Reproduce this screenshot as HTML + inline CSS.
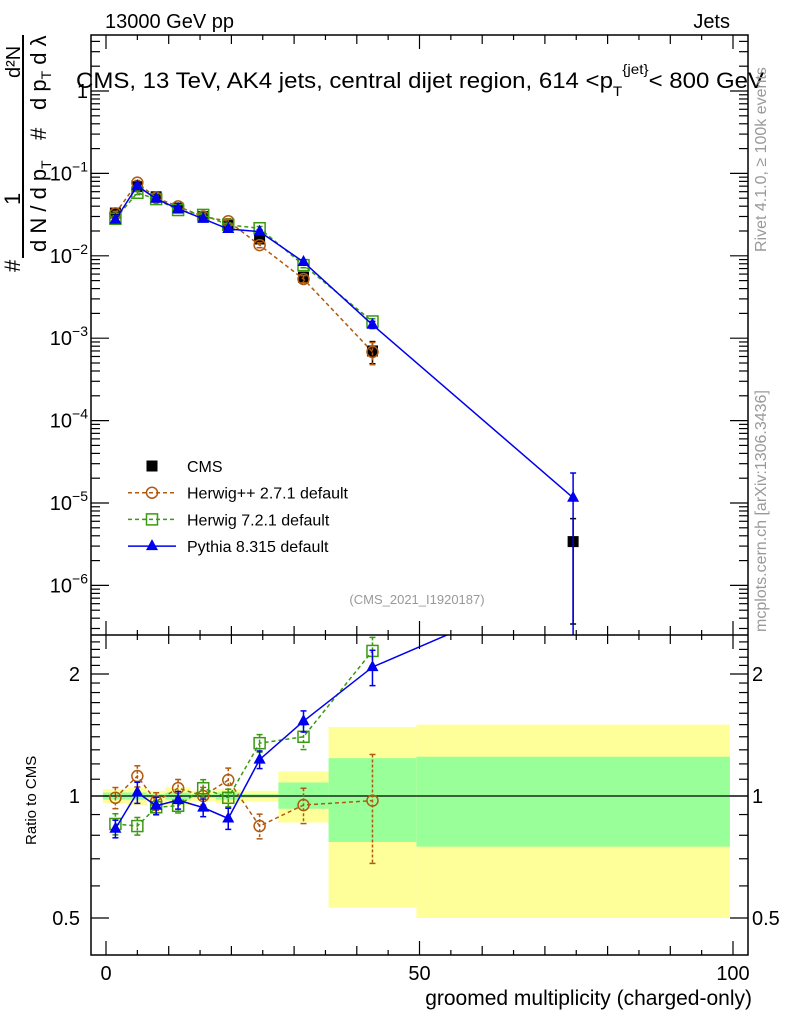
<!DOCTYPE html>
<html><head><meta charset="utf-8"><style>
body{margin:0;background:#fff;}
svg{display:block;font-family:"Liberation Sans",sans-serif;}
</style></head><body>
<svg id="c" width="786" height="1024" viewBox="0 0 786 1024">
<text x="105" y="28" font-size="20">13000 GeV pp</text>
<text x="730" y="28" font-size="20" text-anchor="end">Jets</text>
<text x="420" y="88" font-size="22" text-anchor="middle" textLength="688" lengthAdjust="spacingAndGlyphs">CMS, 13 TeV, AK4 jets, central dijet region, 614 &lt;p<tspan font-size="14" dy="8">T</tspan><tspan font-size="14" dy="-22">{jet}</tspan><tspan dy="14">&lt; 800 GeV</tspan></text>
<text x="417" y="604" font-size="13" fill="#999" text-anchor="middle">(CMS_2021_I1920187)</text>
<text transform="translate(766,252) rotate(-90)" font-size="16" fill="#999">Rivet 4.1.0, ≥ 100k events</text>
<text transform="translate(766,632) rotate(-90)" font-size="16" fill="#999">mcplots.cern.ch [arXiv:1306.3436]</text>
<g font-size="22">
<line x1="23" y1="35" x2="23" y2="258" stroke="#000" stroke-width="2"/>
<text transform="translate(20,272) rotate(-90)">#</text>
<text transform="translate(20,205) rotate(-90)">1</text>
<text transform="translate(20,78) rotate(-90)" font-size="20">d²N</text>
<text transform="translate(46,252) rotate(-90)">d N / d p<tspan font-size="14" dy="5">T</tspan></text>
<text transform="translate(46,140) rotate(-90)">#</text>
<text transform="translate(46,110) rotate(-90)">d p<tspan font-size="14" dy="5">T</tspan><tspan dy="-5"> d λ</tspan></text>
</g>
<text transform="translate(36,845) rotate(-90)" font-size="15">Ratio to CMS</text>
<text x="752" y="1005" font-size="21" text-anchor="end">groomed multiplicity (charged-only)</text>
<g id="g"></g>
</svg>
<script>
const centers=[1.5,5,8,11.5,15.5,19.5,24.5,31.5,42.5,74.5];
const edges=[-0.5,3.5,6.5,9.5,13.5,17.5,21.5,27.5,35.5,49.5,99.5];
const cms=[0.033,0.069,0.052,0.038,0.030,0.024,0.016,0.0055,0.0007,3.4e-6];
const cmsErr=[0.04,0.03,0.03,0.03,0.03,0.03,0.06,0.1,0.3,0.9];
const rHpp=[0.99,1.12,0.97,1.046,1.0,1.095,0.843,0.95,0.974];
const rH7=[0.853,0.843,0.938,0.946,1.045,0.99,1.35,1.40,2.28];
const rPy=[0.83,1.02,0.946,0.977,0.936,0.88,1.23,1.53,2.08,3.4];
const rErrHpp=[0.06,0.06,0.05,0.05,0.05,0.07,0.07,0.1,0.3];
const rErrH7=[0.06,0.05,0.04,0.04,0.05,0.05,0.05,0.07,0.08];
const rErrPy=[0.05,0.06,0.05,0.05,0.05,0.06,0.05,0.06,0.1,1.0];
const yelLo=[0.96,0.95,0.97,0.95,0.97,0.96,0.97,0.86,0.53,0.5];
const yelHi=[1.04,1.05,1.03,1.05,1.03,1.04,1.03,1.15,1.48,1.5];
const grnLo=[0.98,0.98,0.99,0.98,0.99,0.98,0.99,0.93,0.77,0.75];
const grnHi=[1.02,1.02,1.01,1.02,1.01,1.02,1.01,1.08,1.24,1.25];
const xTicks=[0,50,100];
const yTicks=[0,-1,-2,-3,-4,-5,-6];
const rTicks=[0.5,1,2];

const L=91,R=748,T=35,M=635,B=955;
const X=v=>106+v*6.27;
const Y=v=>91-Math.log10(v)*82.4;
const RY=r=>796-Math.log2(r)*122;
const g=document.getElementById('g');
const NS='http://www.w3.org/2000/svg';
function el(t,a,p){const e=document.createElementNS(NS,t);for(const k in a)e.setAttribute(k,a[k]);(p||g).appendChild(e);return e;}
const defs=el('defs',{});
const c1=el('clipPath',{id:'ct'},defs);el('rect',{x:L,y:T,width:R-L,height:M-T},c1);
const c2=el('clipPath',{id:'cr'},defs);el('rect',{x:L,y:M,width:R-L,height:B-M},c2);
const topG=el('g',{'clip-path':'url(#ct)'});
const ratG=el('g',{'clip-path':'url(#cr)'});
edges.slice(0,-1).forEach((e,i)=>{
 const x1=X(e),x2=X(edges[i+1]);
 const b=el('rect',{x:x1,y:RY(yelHi[i]),width:x2-x1,height:RY(yelLo[i])-RY(yelHi[i]),fill:'#ffff99'},ratG);
 
 
 const gb=el('rect',{x:x1,y:RY(grnHi[i]),width:x2-x1,height:RY(grnLo[i])-RY(grnHi[i]),fill:'#99ff99'},ratG);
 
 
});
el('line',{x1:L,x2:R,y1:RY(1),y2:RY(1),stroke:'#000','stroke-width':1.3},ratG);
const series=[
 {r:rHpp,e:rErrHpp,col:'#b05a10',dash:'4,3',m:'circ',name:'herwigpp'},
 {r:rH7,e:rErrH7,col:'#3a9a10',dash:'4,3',m:'sq',name:'herwig7'},
 {r:rPy,e:rErrPy,col:'#0000ee',dash:'',m:'tri',name:'pythia'}];
function marker(m,x,y,col,p,name){
 let e;
 if(m=='circ')e=el('circle',{cx:x,cy:y,r:5.5,fill:'none',stroke:col,'stroke-width':1.5},p);
 else if(m=='sq')e=el('rect',{x:x-5.5,y:y-5.5,width:11,height:11,fill:'none',stroke:col,'stroke-width':1.5},p);
 else if(m=='tri')e=el('polygon',{points:`${x},${y-7} ${x-6},${y+4} ${x+6},${y+4}`,fill:col},p);
 else e=el('rect',{x:x-5.5,y:y-5.5,width:11,height:11,fill:'#000'},p);
 
 
}
function ebar(x,y1,y2,col,dash,p){
 el('line',{x1:x,x2:x,y1:y1,y2:y2,stroke:col,'stroke-width':1.5,'stroke-dasharray':dash?'3,2':''},p);
 [y1,y2].forEach(y=>el('line',{x1:x-3,x2:x+3,y1:y,y2:y,stroke:col,'stroke-width':1.5},p));
}
cms.forEach((v,i)=>{const x=X(centers[i]);
 ebar(x,Y(v*(1+cmsErr[i])),Y(Math.max(v*(1-cmsErr[i]),1e-9)),'#000','',topG);
 marker('data',x,Y(v),'#000',topG,'cms-point');});
series.forEach(s=>{
 const pts=s.r.map((r,i)=>[X(centers[i]),Y(cms[i]*r)]);
 const pl=el('polyline',{points:pts.map(p=>p.join(',')).join(' '),fill:'none',stroke:s.col,'stroke-width':1.5,'stroke-dasharray':s.dash},topG);
 
 
 s.r.forEach((r,i)=>{const v=cms[i]*r,x=X(centers[i]);
  ebar(x,Y(v*(1+s.e[i])),Y(Math.max(v*(1-s.e[i]),1e-9)),s.col,s.dash,topG);
  marker(s.m,x,Y(v),s.col,topG,s.name+'-point');});
 const rp=s.r.map((r,i)=>[X(centers[i]),RY(r)]);
 const rl=el('polyline',{points:rp.map(p=>p.join(',')).join(' '),fill:'none',stroke:s.col,'stroke-width':1.5,'stroke-dasharray':s.dash},ratG);
 
 
 s.r.forEach((r,i)=>{const x=X(centers[i]);if(RY(r)<M)return;
  ebar(x,RY(r*(1+s.e[i])),RY(r*(1-s.e[i])),s.col,s.dash,ratG);
  marker(s.m,x,RY(r),s.col,ratG,s.name+'-ratio-point');});
});
el('rect',{x:L,y:T,width:R-L,height:B-T,fill:'none',stroke:'#000','stroke-width':1.5});
el('line',{x1:L,x2:R,y1:M,y2:M,stroke:'#000','stroke-width':1.5});
for(let v=0;v<=100;v+=5){const x=X(v);const h=v%50==0?14:(v%10==0?9:5);
 [[M,M+h],[B,B-h],[T,T+h],[M,M-h]].forEach(a=>el('line',{x1:x,x2:x,y1:a[0],y2:a[1],stroke:'#000','stroke-width':1.2}));}
xTicks.forEach(v=>{const t=el('text',{x:X(v),y:980,'font-size':20,'text-anchor':'middle'});t.textContent=v;
 
 });
for(let d=1;d>=-7;d--){for(let k=1;k<10;k++){const v=k*Math.pow(10,d);const y=Y(v);if(y<T||y>M)continue;
 const h=k==1?18:9;el('line',{x1:L,x2:L+h,y1:y,y2:y,stroke:'#000','stroke-width':1.2});el('line',{x1:R,x2:R-h,y1:y,y2:y,stroke:'#000','stroke-width':1.2});}}
yTicks.forEach(d=>{const t=el('text',{x:88,y:Y(Math.pow(10,d))+7,'font-size':20,'text-anchor':'end'});
 if(d==0)t.textContent='1';else{t.textContent='10';const s=el('tspan',{dy:-9,'font-size':14},t);s.textContent='\u2212'+(-d);}
 
 });
for(let v=0.4;v<=2.5;v+=0.1){const r=Math.round(v*10)/10;const y=RY(r);if(y<M||y>B)continue;
 const h=(r==0.5||r==1||r==2)?18:9;el('line',{x1:L,x2:L+h,y1:y,y2:y,stroke:'#000','stroke-width':1.2});el('line',{x1:R,x2:R-h,y1:y,y2:y,stroke:'#000','stroke-width':1.2});}
rTicks.forEach(r=>{[[80,'end'],[752,'start']].forEach(p=>{const t=el('text',{x:p[0],y:RY(r)+7,'font-size':20,'text-anchor':p[1]});t.textContent=r;
 
 });});
const leg=[['CMS','data','#000',''],['Herwig++ 2.7.1 default','circ','#b05a10','4,3'],['Herwig 7.2.1 default','sq','#3a9a10','4,3'],['Pythia 8.315 default','tri','#0000ee','']];
leg.forEach((l,i)=>{const y=466+i*26.7;
 if(i>0)el('line',{x1:128,x2:176,y1:y,y2:y,stroke:l[2],'stroke-width':1.5,'stroke-dasharray':l[3]});
 marker(l[1],152,y,l[2],g,'legend-marker');
 const t=el('text',{x:187,y:y+6,'font-size':16});t.textContent=l[0];
 
 });
</script>
</body></html>
